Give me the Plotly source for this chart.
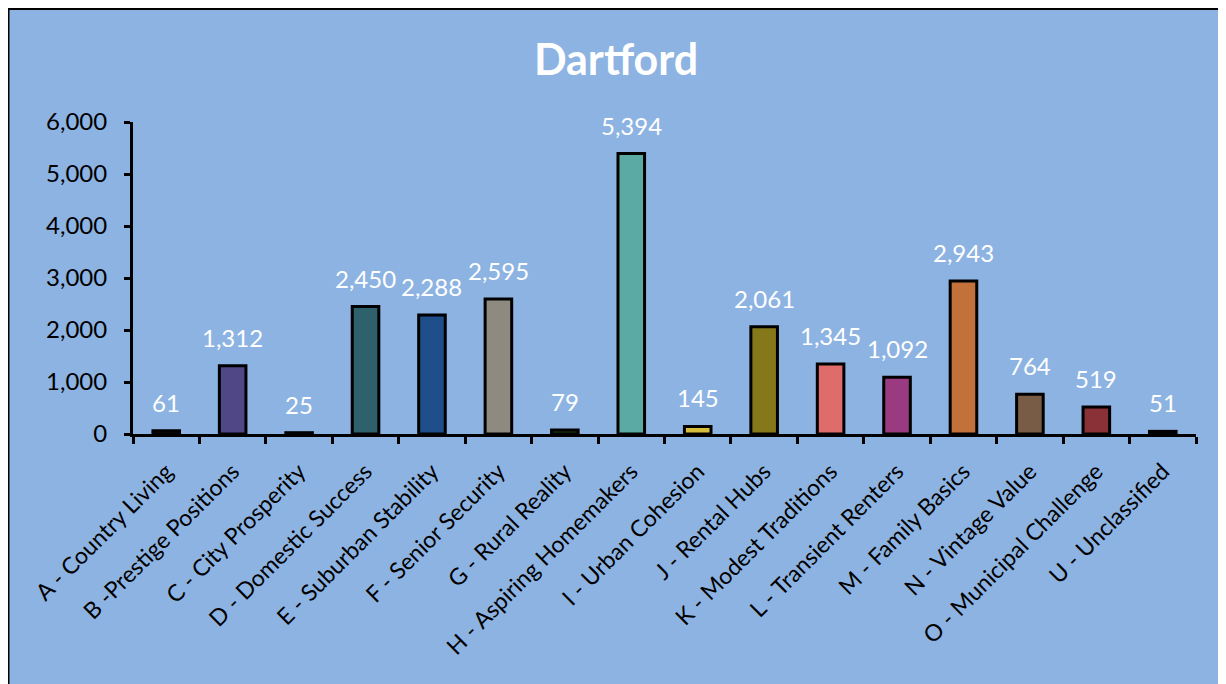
import plotly.graph_objects as go

categories = [
    "A - Country Living", "B -Prestige Positions", "C - City Prosperity",
    "D - Domestic Success", "E - Suburban Stability", "F - Senior Security",
    "G - Rural Reality", "H - Aspiring Homemakers", "I - Urban Cohesion",
    "J - Rental Hubs", "K - Modest Traditions", "L - Transient Renters",
    "M - Family Basics", "N - Vintage Value", "O - Municipal Challenge",
    "U - Unclassified",
]
values = [61, 1312, 25, 2450, 2288, 2595, 79, 5394, 145, 2061, 1345, 1092, 2943, 764, 519, 51]
colors = [
    "#1b1b1b", "#4f4786", "#1b1b1b", "#2e616c", "#1f4e8a", "#8e8a80",
    "#1f3a12", "#5baba4", "#d6be3c", "#85781b", "#dd6c6b", "#9a3a80",
    "#c3713a", "#785c46", "#893137", "#1b1b1b",
]
y_ticks = [0, 1000, 2000, 3000, 4000, 5000, 6000]

FONT = "Lato"
BG = "#8db3e2"

# page has an 8px body margin; figure sized to fit the window
W, H = 1218, 676
L, R, T, B = 125, 30, 114, 250
pw, ph = W - L - R, H - T - B

fig = go.Figure()
fig.add_trace(go.Bar(
    x=categories, y=values,
    marker=dict(color=colors, line=dict(color="black", width=3)),
    hoverinfo="x+y",
))

for c, v in zip(categories, values):
    fig.add_annotation(
        x=c, y=v, text=f"{v:,}", showarrow=False,
        yanchor="bottom", yshift=12,
        font=dict(family=FONT, size=24, color="white"),
    )

# chart area background with border (figure px coords converted to paper)
bx0, bx1, by0, by1 = 0.5, 1213, 1, 720
fig.add_shape(
    type="rect", xref="paper", yref="paper", layer="below",
    x0=(bx0 - L) / pw, x1=(bx1 - L) / pw,
    y0=(H - B - by1) / ph, y1=(H - B - by0) / ph,
    fillcolor=BG, line=dict(color="black", width=2),
)

fig.update_layout(
    width=W, height=H,
    margin=dict(l=L, r=R, t=T, b=B),
    paper_bgcolor="white",
    plot_bgcolor="rgba(0,0,0,0)",
    bargap=0.6,
    showlegend=False,
    title=dict(
        text="<b>Dartford</b>", x=(616 - 8) / W, xanchor="center",
        y=1 - 52 / H, yanchor="middle", yref="container",
        font=dict(family=FONT, size=43, color="white"),
    ),
    font=dict(family=FONT, color="black"),
)
fig.update_xaxes(
    showline=True, linecolor="black", linewidth=3,
    ticks="outside", tickson="boundaries", ticklen=7, tickwidth=3, tickcolor="black",
    tickangle=-45, tickfont=dict(family=FONT, size=23, color="black"),
    ticklabelstandoff=12, ticklabelshift=0,
    showgrid=False, zeroline=False,
)
fig.update_yaxes(
    range=[0, 6000], tickvals=y_ticks, tickformat=",",
    showline=True, linecolor="black", linewidth=3,
    ticks="outside", ticklen=6, tickwidth=3, tickcolor="black",
    tickfont=dict(family=FONT, size=24, color="black"),
    ticklabelstandoff=12,
    showgrid=False, zeroline=False,
)

fig.write_html("out.html")
